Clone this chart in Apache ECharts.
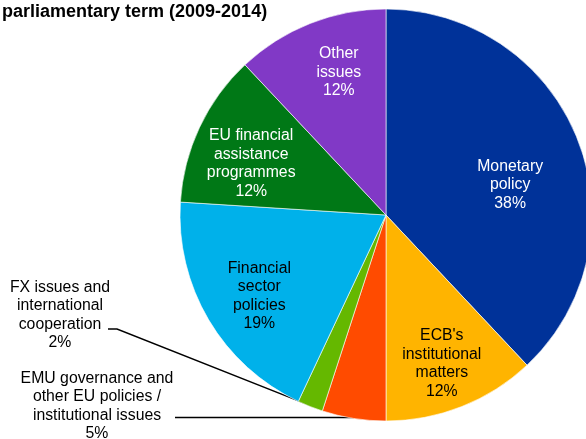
<!DOCTYPE html>
<html>
<head>
<meta charset="utf-8">
<script src="https://cdn.jsdelivr.net/npm/echarts@6/dist/echarts.min.js"></script>
<style>
  html, body { margin: 0; padding: 0; background: #fff; }
  #chart { width: 586px; height: 439px; }
</style>
</head>
<body>
<div id="chart"></div>
<script>
// ---- data ----
const titleText = 'parliamentary term (2009-2014)';
const categories = [
  'Monetary\npolicy',
  "ECB's\ninstitutional\nmatters",
  'EMU governance and\nother EU policies /\ninstitutional issues',
  'FX issues and\ninternational\ncooperation',
  'Financial\nsector\npolicies',
  'EU financial\nassistance\nprogrammes',
  'Other\nissues'
];
const shares = [38, 12, 5, 2, 19, 12, 12];

// ---- styles ----
const colors = ['#003299', '#FFB400', '#FF4B00', '#65B800', '#00B1EA', '#007816', '#8139C6'];
const textColors = ['#fff', '#000', '#000', '#000', '#000', '#fff', '#fff'];
const CX = 386, CY = 215, R = 206;
// inside label placement: radius fraction and angle tweak (deg)
const insideCfg = {
  0: { rf: 0.62, da: 8 },
  1: { rf: 0.77, da: 1 },
  4: { rf: 0.73, da: -2 },
  5: { rf: 0.70, da: -4.4 },
  6: { rf: 0.73, da: 3.3 }
};
// outside label placement: label centre and leader-line bend/end points
const outsideCfg = {
  2: { lx: 97, ly: 406, bend: [200, 417.5], end: [175, 417.5] },
  3: { lx: 60, ly: 315, bend: [117, 329], end: [108, 329] }
};

const total = shares.reduce((a, b) => a + b, 0);
function midAngle(i) {
  let before = 0;
  for (let k = 0; k < i; k++) before += shares[k];
  return (before + shares[i] / 2) / total * 360;
}
function polar(angleDeg, r) {
  const a = angleDeg * Math.PI / 180;
  return [CX + r * Math.sin(a), CY - r * Math.cos(a)];
}

const data = shares.map((v, i) => {
  const isOut = outsideCfg[i] !== undefined;
  return {
    name: categories[i],
    value: v,
    itemStyle: { color: colors[i] },
    label: {
      position: isOut ? 'outside' : 'inside',
      color: textColors[i]
    },
    labelLine: {
      show: isOut,
      length: 10, length2: 10,
      lineStyle: { color: '#000', width: 1.4 }
    }
  };
});

const chart = echarts.init(document.getElementById('chart'), null, { renderer: 'canvas' });
chart.setOption({
  animation: false,
  backgroundColor: '#fff',
  title: {
    text: titleText,
    left: -3,
    top: -2,
    textStyle: { fontFamily: 'Liberation Sans, Arial, sans-serif', fontWeight: 'bold', fontSize: 18, color: '#000' }
  },
  series: [{
    type: 'pie',
    center: [CX, CY],
    radius: [0, R],
    startAngle: 90,
    clockwise: true,
    avoidLabelOverlap: false,
    emphasis: { disabled: true },
    itemStyle: { borderColor: '#fff', borderWidth: 0.6 },
    label: {
      show: true,
      formatter: '{b}\n{c}%',
      fontFamily: 'Liberation Sans, Arial, sans-serif',
      fontSize: 15.8,
      lineHeight: 18.5,
      align: 'center'
    },
    labelLayout: function (p) {
      const i = p.dataIndex;
      if (outsideCfg[i]) {
        const c = outsideCfg[i];
        const edge = polar(midAngle(i), R - 1);
        return {
          x: c.lx, y: c.ly, align: 'center', verticalAlign: 'middle',
          labelLinePoints: [edge, c.bend, c.end]
        };
      }
      const c = insideCfg[i];
      const pt = polar(midAngle(i) + c.da, R * c.rf);
      return { x: pt[0], y: pt[1], align: 'center', verticalAlign: 'middle' };
    },
    data: data
  }]
});
</script>
</body>
</html>
